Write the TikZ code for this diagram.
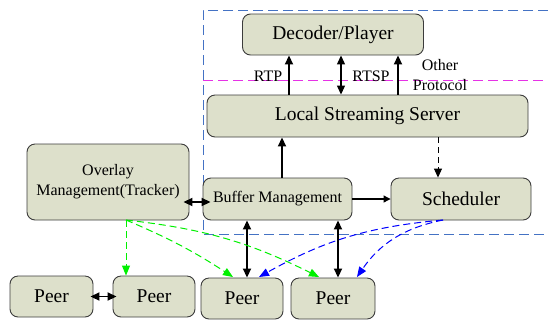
\documentclass[tikz,border=0pt]{standalone}
\usepackage{fontspec}
\setmainfont{Liberation Serif}
\usetikzlibrary{arrows.meta}
\definecolor{boxfill}{RGB}{221,224,203}
\definecolor{boxline}{RGB}{60,60,60}
\definecolor{frameblue}{RGB}{68,114,196}
\definecolor{magline}{RGB}{230,50,230}
\definecolor{grn}{RGB}{0,240,0}
\begin{document}
\begin{tikzpicture}[x=1pt,y=-1pt,
  box/.style={draw=boxline,fill=boxfill,rounded corners=8pt,line width=0.9pt,inner sep=0pt,font=\fontsize{19.5}{22}\selectfont},
  smallbox/.style={box,font=\fontsize{16}{20}\selectfont,align=center},
  lbl/.style={font=\fontsize{16}{20}\selectfont,inner sep=0pt,align=center},
  tip/.style={-{Triangle[length=9pt,width=8pt]}},
  dtip/.style={{Triangle[length=9pt,width=8pt]}-{Triangle[length=9pt,width=8pt]}},
  thick arrow/.style={line width=1.8pt},
  dashtip/.style={-{Triangle[length=10pt,width=8pt]},line width=1pt,dash pattern=on 7pt off 4pt}
]
\useasboundingbox (0,0) rectangle (548,322);
% frames
\draw[frameblue,line width=1pt,dash pattern=on 10pt off 5pt] (548,10) -- (203,10) -- (203,234) -- (548,234);
\draw[magline,line width=1pt,dash pattern=on 10pt off 5pt] (203,80) -- (548,80);
% boxes
\node[box,minimum width=181pt,minimum height=41pt] (dec) at (333,34.5) {Decoder/Player};
\node[box,minimum width=321pt,minimum height=42pt] (lss) at (367.5,116) {Local Streaming Server};
\node[smallbox,minimum width=162pt,minimum height=76pt] (ovl) at (108,182) {Overlay\\Management(Tracker)};
\node[smallbox,minimum width=149pt,minimum height=42pt] (buf) at (277.5,199) {Buffer Management};
\node[box,minimum width=140pt,minimum height=42pt] (sch) at (461,199) {Scheduler};
\node[box,minimum width=83pt,minimum height=41pt] (p1) at (51.5,296.5) {Peer};
\node[box,minimum width=82pt,minimum height=41pt] (p2) at (154,296.5) {Peer};
\node[box,minimum width=82pt,minimum height=41pt] (p3) at (242,298.5) {Peer};
\node[box,minimum width=84pt,minimum height=41pt] (p4) at (333,298.5) {Peer};
% labels
\node[lbl] (rtp) at (268,76) {RTP};
\node[lbl] (rtsp) at (371,76) {RTSP};
\node[lbl] (oth) at (440,75) {Other\\Protocol};
% LSS to decoder
\draw[tip,thick arrow] (lss.north -| 289,0) -- (dec.south -| 289,0);
\draw[dtip,line width=1.2pt] (lss.north -| 341,0) -- (dec.south -| 341,0);
\draw[tip,thick arrow] (lss.north -| 398,0) -- (dec.south -| 398,0);
% buffer etc
\draw[tip,thick arrow] (buf.north -| 282,0) -- (lss.south -| 282,0);
\draw[tip,line width=1pt,dash pattern=on 6pt off 4pt] (lss.south -| 438,0) -- (sch.north -| 438,0);
\draw[-{Triangle[length=7pt,width=7pt]},line width=1.1pt] (buf.east) -- (sch.west);
\draw[dtip,thick arrow] ([xshift=-6pt]ovl.east |- 0,202) -- ([xshift=8pt]buf.west |- 0,202);
\draw[dtip,thick arrow] (buf.south -| 247,0) -- (p3.north -| 247,0);
\draw[dtip,thick arrow] (buf.south -| 338,0) -- (p4.north -| 338,0);
\draw[dtip,thick arrow] ([xshift=-3pt]p1.east) -- ([xshift=4pt]p2.west);
% green dashed
\coordinate (gs) at (126,220);
\draw[dashtip,grn] (gs) -- (gs |- p2.north);
\draw[dashtip,grn] (gs) to[bend left=5] (233,277);
\draw[dashtip,grn] (gs) to[bend left=10] (319,277);
% blue dashed
\coordinate (bs) at (443,220);
\draw[dashtip,blue] (bs) to[bend right=12] (259,277);
\draw[dashtip,blue] (bs) to[bend right=22] (357,277);
\end{tikzpicture}
\end{document}
